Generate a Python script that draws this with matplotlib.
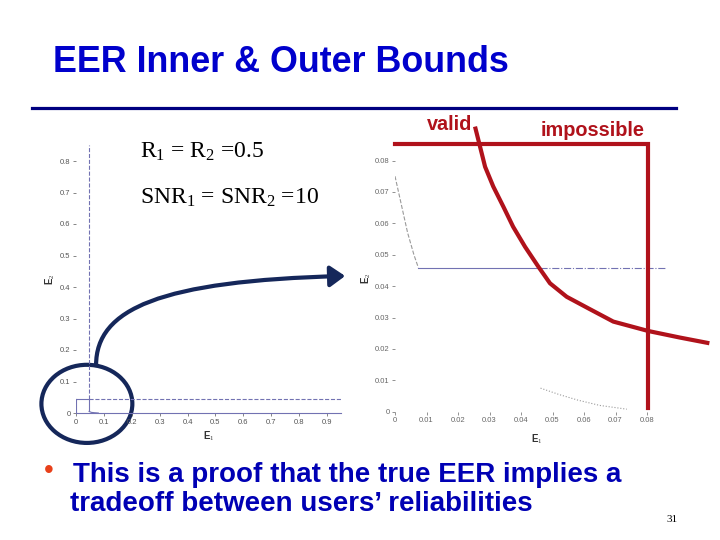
import numpy as np
import matplotlib
matplotlib.use('Agg')
import matplotlib.pyplot as plt
from matplotlib.path import Path
from matplotlib.patches import FancyArrowPatch, Ellipse

plt.rcParams['font.family'] = ['Liberation Sans', 'DejaVu Sans']
plt.rcParams['mathtext.fontset'] = 'custom'
plt.rcParams['mathtext.rm'] = 'Liberation Serif'
plt.rcParams['mathtext.it'] = 'Liberation Serif:italic'

# left plot: full region
left_xticks = [0, 0.1, 0.2, 0.3, 0.4, 0.5, 0.6, 0.7, 0.8, 0.9]
left_yticks = [0, 0.1, 0.2, 0.3, 0.4, 0.5, 0.6, 0.7, 0.8]
eps_bound = 0.046
inner_x = [0, eps_bound, eps_bound]
inner_y = [eps_bound, eps_bound, 0.005]
corner_x = [0.047, 0.055, 0.065, 0.08]
corner_y = [0.005, 0.002, 0.001, 0.0]

# right plot: zoom near the origin
right_xticks = [0, 0.01, 0.02, 0.03, 0.04, 0.05, 0.06, 0.07, 0.08]
right_yticks = [0, 0.01, 0.02, 0.03, 0.04, 0.05, 0.06, 0.07, 0.08]
upper_x = [0, 0.002, 0.004, 0.006, 0.0074]
upper_y = [0.075, 0.066, 0.057, 0.050, 0.0459]
lower_x = [0.0462, 0.052, 0.058, 0.065, 0.0736]
lower_y = [0.0075, 0.0055, 0.0037, 0.002, 0.0008]
flat_y = 0.0459
flat_solid = [0.0074, 0.046]
flat_dashdot = [0.046, 0.0857]

# hand drawn red tradeoff curve
trade_x = [0.0254, 0.0270, 0.0286, 0.0312, 0.0344, 0.0375, 0.0413, 0.0455, 0.0492,
           0.0545, 0.0614, 0.0693, 0.0804, 0.0905, 0.0998]
trade_y = [0.0908, 0.0844, 0.0780, 0.0717, 0.0653, 0.0589, 0.0525, 0.0462, 0.0409,
           0.0366, 0.0329, 0.0287, 0.0257, 0.0236, 0.0218]
box_x = [0, 0.0804, 0.0804]
box_y = [0.0852, 0.0852, 0.0011]

red = '#B0121B'
navy = '#15275A'
lineblue = '#7272B2'
gray = '#9A9A9A'

fig = plt.figure(figsize=(7.2, 5.4), dpi=100)

# slide title and rule
fig.text(53 / 720, 1 - 62 / 540, 'EER Inner & Outer Bounds', fontsize=25.8,
         fontweight='bold', color='#0000CC', va='center', ha='left')
fig.add_artist(plt.Line2D([32 / 720, 676 / 720], [1 - 108 / 540, 1 - 108 / 540],
                          color='#000080', lw=2.3))

# ---- left axes
ax1 = fig.add_axes([76 / 720, 1 - 413 / 540, 265 / 720, 267.75 / 540])
ax1.set_xlim(0, 0.95)
ax1.set_ylim(0, 0.85)
ax1.plot(inner_x[:2], inner_y[:2], color=lineblue, lw=0.8)
ax1.plot(inner_x[1:], inner_y[1:], color=lineblue, lw=0.8)
ax1.plot([eps_bound, 0.95], [eps_bound, eps_bound], color=lineblue, lw=0.8, ls='--')
ax1.plot([eps_bound, eps_bound], [eps_bound, 0.85], color=lineblue, lw=0.8, ls='--')
ax1.plot([0, 0], [0, eps_bound], color=lineblue, lw=0.8)
ax1.plot(corner_x, corner_y, color=lineblue, lw=0.8)
ax1.set_xticks(left_xticks)
ax1.set_xticklabels([f'{v:g}' for v in left_xticks])
ax1.set_yticks(left_yticks)
ax1.set_yticklabels([f'{v:g}' for v in left_yticks])
for s in ['top', 'right', 'left']:
    ax1.spines[s].set_visible(False)
ax1.spines['bottom'].set_color(lineblue)
ax1.spines['bottom'].set_linewidth(0.8)
ax1.tick_params(labelsize=5.5, colors='#555555', length=2, width=0.5, pad=2)
ax1.set_xlabel('E$_1$', fontsize=7, fontweight='bold', color='#333333', labelpad=3)
ax1.set_ylabel('E$_2$', fontsize=7, fontweight='bold', color='#333333', labelpad=2)
ax1.patch.set_alpha(0)

circle = Ellipse((0.039, 0.029), 0.326, 0.248, fill=False, ec=navy, lw=3, clip_on=False)
ax1.add_patch(circle)
arrow_path = Path([(0.072, 0.152), (0.072, 0.33), (0.30, 0.42), (0.965, 0.435)],
                  [Path.MOVETO, Path.CURVE4, Path.CURVE4, Path.CURVE4])
arrow = FancyArrowPatch(path=arrow_path, arrowstyle='-|>,head_length=0.5,head_width=0.35',
                        mutation_scale=18, color=navy, lw=3, clip_on=False)
ax1.add_patch(arrow)

fig.text(140 / 720, 1 - 158 / 540, 'R$_1$ = R$_2$ =0.5', fontsize=17,
         family='Liberation Serif', va='baseline')
fig.text(140 / 720, 1 - 204 / 540, 'SNR$_1$ = SNR$_2$ =10', fontsize=17,
         family='Liberation Serif', va='baseline')

# ---- right axes
ax2 = fig.add_axes([395 / 720, 1 - 411.7 / 540, 283.5 / 720, 266.9 / 540])
ax2.set_xlim(0, 0.09)
ax2.set_ylim(0, 0.085)
ax2.plot(upper_x, upper_y, color=gray, lw=0.8, ls='--')
ax2.plot(lower_x, lower_y, color=gray, lw=0.8, ls=':')
ax2.plot(flat_solid, [flat_y, flat_y], color=lineblue, lw=0.8)
ax2.plot(flat_dashdot, [flat_y, flat_y], color=lineblue, lw=0.8, ls='-.')
ax2.plot(trade_x, trade_y, color=red, lw=3, clip_on=False, solid_capstyle='butt',
         solid_joinstyle='round')
ax2.plot(box_x, box_y, color=red, lw=3, clip_on=False, solid_joinstyle='miter')
ax2.set_xticks(right_xticks)
ax2.set_xticklabels([f'{v:g}' for v in right_xticks])
ax2.set_yticks(right_yticks)
ax2.set_yticklabels([f'{v:g}' for v in right_yticks])
for s in ax2.spines.values():
    s.set_visible(False)
ax2.tick_params(labelsize=5.5, colors='#666666', length=2, width=0.5, pad=2)
ax2.set_xlabel('E$_1$', fontsize=7, fontweight='bold', color='#333333', labelpad=6)
ax2.set_ylabel('E$_2$', fontsize=7, fontweight='bold', color='#333333', labelpad=1)
ax2.patch.set_alpha(0)

fig.text(450 / 720, 1 - 124 / 540, 'valid', fontsize=14.3, fontweight='bold',
         color=red, ha='center', va='center')
fig.text(593 / 720, 1 - 130 / 540, 'impossible', fontsize=14.3, fontweight='bold',
         color=red, ha='center', va='center')

# bullet text
fig.text(49 / 720, 1 - 471 / 540, '\u2022', fontsize=20, color='#E8401A',
         ha='center', va='center')
fig.text(73 / 720, 1 - 475 / 540, 'This is a proof that the true EER implies a',
         fontsize=20, fontweight='bold', color='#0000B4', va='center')
fig.text(70 / 720, 1 - 504 / 540, 'tradeoff between users\u2019 reliabilities',
         fontsize=20, fontweight='bold', color='#0000B4', va='center')
fig.text(672 / 720, 1 - 519 / 540, '31', fontsize=8, family='Liberation Serif',
         ha='center', va='center')

fig.savefig('out.png', dpi=100)
